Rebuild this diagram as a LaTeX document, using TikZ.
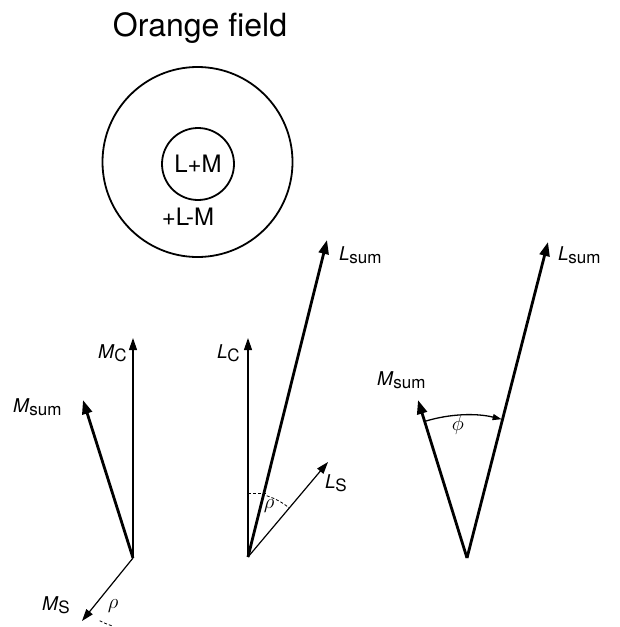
\documentclass[tikz,border=0pt]{standalone}
\usepackage{fontspec}
\setmainfont{TeX Gyre Heros}
\usetikzlibrary{arrows.meta,calc}
\newcommand{\vlab}[2]{\textit{#1}\hspace{-0.3pt}\raisebox{-3.5pt}{\fontsize{17}{17}\selectfont #2}}
\begin{document}
\begin{tikzpicture}[x=1pt,y=-1pt,
  bigvec/.style={line width=2.8pt,-{Triangle[length=14pt,width=10pt]}},
  thinvec/.style={line width=1.2pt,-{Triangle[length=12pt,width=8pt]}},
  lab/.style={font=\fontsize{19}{19}\selectfont,inner sep=0pt,anchor=base west},
  greek/.style={font=\fontsize{22}{22}\selectfont,inner sep=0pt},
  dashline/.style={line width=0.8pt,dash pattern=on 3pt off 2pt},
  ring/.style={draw,line width=1.8pt,circle,inner sep=0pt}]
\useasboundingbox (0,0) rectangle (619,627);
% title and receptive field
\node[font=\fontsize{32}{32}\selectfont,inner sep=0pt] (title) at (200,28) {Orange field};
\node[ring,minimum size=190pt] (outer) at (197.5,162) {};
\node[ring,minimum size=72pt] (inner) at (198,164) {};
\node[font=\fontsize{24}{24}\selectfont,inner sep=0pt] (lpm) at (198,164) {L+M};
\node[font=\fontsize{24}{24}\selectfont,inner sep=0pt] (plm) at (188,217) {+L-M};
% left diagram (M)
\coordinate (O1) at (133,558);
\coordinate (Mc) at (133,338);
\coordinate (Msum1) at (83,400);
\coordinate (Ms) at (82,621);
\draw[thinvec] (O1) -- (Mc);
\draw[bigvec] (O1) -- (Msum1);
\draw[thinvec] (O1) -- (Ms);
\node[lab] (lMc) at (98,358) {\vlab{M}{C}};
\node[lab] (lMsum1) at (13,412) {\vlab{M}{sum}};
\node[lab] (lMs) at (42,610) {\vlab{M}{S}};
\node[greek] (rho1) at (113,606) {$\rho$};
\draw[dashline] ($(O1)+(-242:71)$) arc[start angle=-242,end angle=-253,radius=71];
% middle diagram (L)
\coordinate (O2) at (248,557);
\coordinate (Lc) at (248,338);
\coordinate (Lsum1) at (327,240);
\coordinate (Ls) at (328,462);
\draw[thinvec] (O2) -- (Lc);
\draw[bigvec] (O2) -- (Lsum1);
\draw[thinvec] (O2) -- (Ls);
\node[lab] (lLc) at (217,358) {\vlab{L}{C}};
\node[lab] (lLsum1) at (339,260) {\vlab{L}{sum}};
\node[lab] (lLs) at (325,488) {\vlab{L}{S}};
\draw[dashline] ($(O2)+(0,-64)$) -- ($(O2)+(18,-64)$);
\draw[dashline] ($(O2)+(-73:64)$) arc[start angle=-73,end angle=-50,radius=64];
\node[greek] (rho2) at (269,506) {$\rho$};
% right diagram (angle)
\coordinate (O3) at (467,558);
\coordinate (Msum2) at (418,400);
\coordinate (Lsum2) at (548,242);
\draw[bigvec] (O3) -- (Msum2);
\draw[bigvec] (O3) -- (Lsum2);
\node[lab] (lMsum2) at (377,385) {\vlab{M}{sum}};
\node[lab] (lLsum2) at (558,260) {\vlab{L}{sum}};
\draw[line width=1.3pt,-{Triangle[length=9pt,width=6pt]}] ($(O3)+(-107:143)$) arc[start angle=-107,end angle=-76,radius=143];
\node[greek] (phi) at (458,425) {$\phi$};
\end{tikzpicture}
\end{document}
